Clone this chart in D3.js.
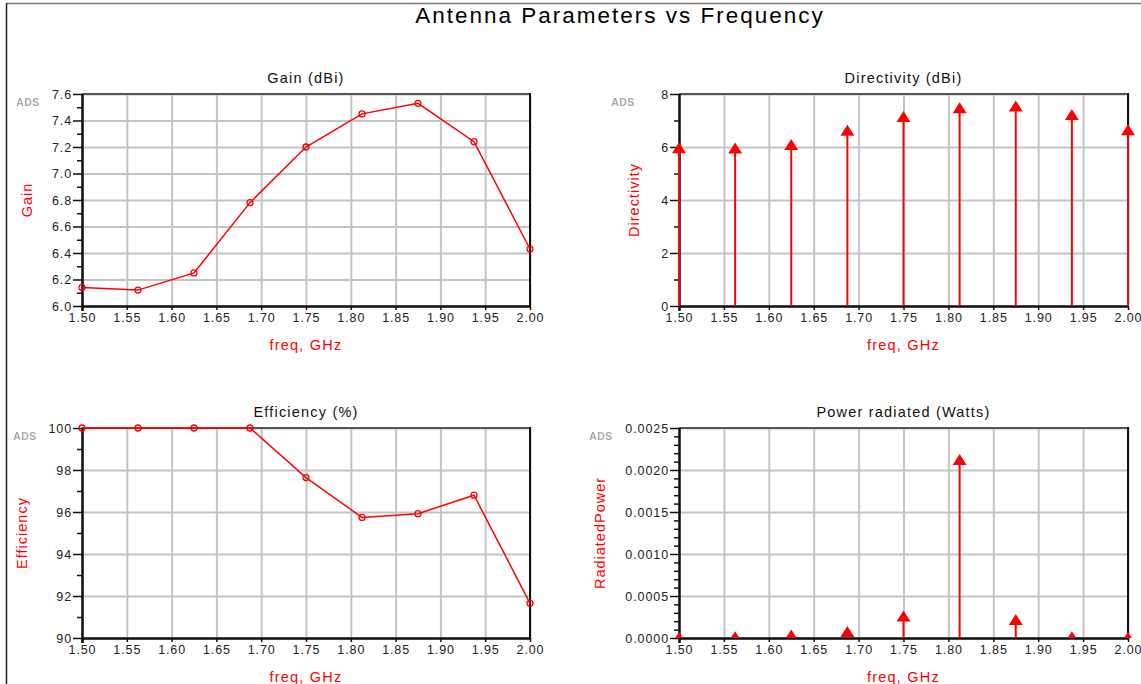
<!DOCTYPE html>
<html>
<head>
<meta charset="utf-8">
<script src="https://cdn.jsdelivr.net/npm/d3@7"></script>
<style>
  body { margin: 0; background: #fff; }
  svg { display: block; font-family: "Liberation Sans", Arial, sans-serif; }
  .tick text { font-size: 12.5px; fill: #222; letter-spacing: 0.9px; }
  .grid line { stroke: #c4c4c4; stroke-width: 2; }
  .grid path { display: none; }
</style>
</head>
<body>
<div id="chart"></div>
<script>
// values
const freq = [1.5, 1.5625, 1.625, 1.6875, 1.75, 1.8125, 1.875, 1.9375, 2.0];
const gain = [6.14, 6.12, 6.25, 6.78, 7.20, 7.45, 7.53, 7.24, 6.43];
const directivity = [5.95, 5.94, 6.08, 6.61, 7.13, 7.46, 7.53, 7.21, 6.63];
const efficiency = [100, 100, 100, 100, 97.64, 95.74, 95.92, 96.80, 91.65];
const radiatedPower = [0.0, 0.00001, 0.00003, 0.00007, 0.000255, 0.00212, 0.000215, 0.000008, 0.0];

const freqTicks = [1.50, 1.55, 1.60, 1.65, 1.70, 1.75, 1.80, 1.85, 1.90, 1.95, 2.00];
const gainTicks = [6.0, 6.2, 6.4, 6.6, 6.8, 7.0, 7.2, 7.4, 7.6];
const dirTicks = [0, 2, 4, 6, 8];
const effTicks = [90, 92, 94, 96, 98, 100];
const powerTicks = [0.0000, 0.0005, 0.0010, 0.0015, 0.0020, 0.0025];

const W = 1141, H = 684;
const svg = d3.select("#chart").append("svg").attr("width", W).attr("height", H);

// outer frame
svg.append("line").attr("x1", 6).attr("x2", W).attr("y1", 3.5).attr("y2", 3.5)
    .attr("stroke", "#777").attr("stroke-width", 1.5);
svg.append("line").attr("x1", 6.5).attr("x2", 6.5).attr("y1", 3).attr("y2", H)
    .attr("stroke", "#222").attr("stroke-width", 1.5);

svg.append("text")
    .attr("x", 620).attr("y", 23)
    .attr("text-anchor", "middle")
    .style("font-size", "22.5px")
    .style("letter-spacing", "2px")
    .text("Antenna Parameters vs Frequency");

// blur for the little ADS stamp
svg.append("defs").append("filter").attr("id", "soft")
    .append("feGaussianBlur").attr("stdDeviation", 0.7);

function panel(cfg) {
    let left = cfg.left, right = cfg.right, top = cfg.top, bottom = cfg.bottom;
    let w = right - left, h = bottom - top;
    let g = svg.append("g").attr("transform", `translate(${left},${top})`);

    let x = d3.scaleLinear().domain([1.5, 2.0]).range([0, w]);
    let y = d3.scaleLinear().domain(cfg.yDomain).range([h, 0]);

    // grid
    g.append("g").attr("class", "grid")
        .call(d3.axisLeft(y).tickValues(cfg.yTicks).tickSize(-w).tickFormat(""));
    g.append("g").attr("class", "grid")
        .call(d3.axisBottom(x).tickValues(freqTicks).tickSize(h).tickFormat(""));

    // frame: top gray, right black
    g.append("line").attr("x1", 0).attr("x2", w).attr("y1", 0).attr("y2", 0)
        .attr("stroke", "#555").attr("stroke-width", 2);
    g.append("line").attr("x1", w).attr("x2", w).attr("y1", -1).attr("y2", h)
        .attr("stroke", "#111").attr("stroke-width", 2);

    // minor y ticks
    g.append("g")
        .call(d3.axisLeft(y).tickValues(cfg.yMinor).tickSize(5).tickFormat(""))
        .call(a => a.select(".domain").remove())
        .selectAll("line").attr("stroke", "#111").attr("stroke-width", 1.5);

    // y axis
    g.append("g")
        .call(d3.axisLeft(y).tickValues(cfg.yTicks).tickSize(9).tickSizeOuter(0).tickPadding(1).tickFormat(cfg.fmt))
        .call(a => a.select(".domain").attr("stroke", "#111").attr("stroke-width", 2.5)
            .attr("d", `M0.5,0V${h + 5}`))
        .selectAll("line").attr("stroke", "#111").attr("stroke-width", 1.5);

    // x axis
    g.append("g")
        .attr("transform", `translate(0,${h})`)
        .call(d3.axisBottom(x).tickValues(freqTicks).tickSize(4).tickSizeOuter(0).tickPadding(3).tickFormat(d3.format(".2f")))
        .call(a => a.select(".domain").attr("stroke", "#111").attr("stroke-width", 2.5))
        .selectAll("line").attr("stroke", "#111").attr("stroke-width", 1.5);

    let vals = cfg.values;

    if (cfg.type === "line") {
        let line = d3.line().x((d, i) => x(freq[i])).y(d => y(d));
        g.append("path").datum(vals)
            .attr("d", line)
            .attr("fill", "none").attr("stroke", "#ff0000").attr("stroke-width", 1.5);
        g.selectAll(".pt").data(vals).enter().append("circle")
            .attr("class", "pt")
            .attr("cx", (d, i) => x(freq[i])).attr("cy", d => y(d))
            .attr("r", 3).attr("fill", "none")
            .attr("stroke", "#ff0000").attr("stroke-width", 1.3);
    } else {
        let clipId = "clip" + cfg.id;
        g.append("clipPath").attr("id", clipId)
            .append("rect").attr("x", -20).attr("y", -20).attr("width", w + 40).attr("height", h + 20);
        let m = g.append("g").attr("clip-path", `url(#${clipId})`);
        m.selectAll(".stem").data(vals).enter().append("line")
            .attr("class", "stem")
            .attr("x1", (d, i) => x(freq[i])).attr("x2", (d, i) => x(freq[i]))
            .attr("y1", y(0)).attr("y2", d => y(d))
            .attr("stroke", "#ff0000").attr("stroke-width", 2);
        m.selectAll(".tri").data(vals).enter().append("path")
            .attr("class", "tri")
            .attr("transform", (d, i) => `translate(${x(freq[i])},${y(d)})`)
            .attr("d", "M0,-6L7,5L-7,5Z")
            .attr("fill", "#ff0000");
    }

    // titles and labels
    g.append("text").attr("x", w / 2).attr("y", -11)
        .attr("text-anchor", "middle").style("font-size", "14.5px").style("letter-spacing", "1.2px")
        .attr("fill", "#111")
        .text(cfg.title);
    g.append("text").attr("x", w / 2).attr("y", h + 44)
        .attr("text-anchor", "middle").style("font-size", "14.5px").style("letter-spacing", "1.2px")
        .attr("fill", "#ff0000")
        .text("freq, GHz");
    g.append("text")
        .attr("transform", `translate(${cfg.yLabelX},${h / 2}) rotate(-90)`)
        .attr("text-anchor", "middle").style("font-size", "14.5px").style("letter-spacing", "1px")
        .attr("fill", "#ff0000")
        .text(cfg.yLabel);
    g.append("text").attr("x", cfg.adsX).attr("y", 12)
        .attr("text-anchor", "middle").style("font-size", "10.5px").style("font-weight", "bold")
        .style("letter-spacing", "0.5px")
        .attr("fill", "#aaaaaa").attr("filter", "url(#soft)")
        .text("ADS");
}

panel({
    id: 1, left: 82, right: 530, top: 94, bottom: 306,
    title: "Gain (dBi)", yLabel: "Gain", yLabelX: -50, adsX: -54,
    yDomain: [6.0, 7.6], yTicks: gainTicks,
    yMinor: d3.range(6.1, 7.6, 0.2), fmt: d3.format(".1f"),
    values: gain, type: "line"
});
panel({
    id: 2, left: 679, right: 1128, top: 94, bottom: 306,
    title: "Directivity (dBi)", yLabel: "Directivity", yLabelX: -40, adsX: -56,
    yDomain: [0, 8], yTicks: dirTicks,
    yMinor: [1, 3, 5, 7], fmt: d3.format("d"),
    values: directivity, type: "stem"
});
panel({
    id: 3, left: 82, right: 530, top: 428, bottom: 638,
    title: "Efficiency (%)", yLabel: "Efficiency", yLabelX: -55, adsX: -57,
    yDomain: [90, 100], yTicks: effTicks,
    yMinor: [91, 93, 95, 97, 99], fmt: d3.format("d"),
    values: efficiency, type: "line"
});
panel({
    id: 4, left: 679, right: 1128, top: 428, bottom: 638,
    title: "Power radiated (Watts)", yLabel: "RadiatedPower", yLabelX: -74, adsX: -78,
    yDomain: [0, 0.0025], yTicks: powerTicks,
    yMinor: d3.range(1, 25).filter(k => k % 5 !== 0).map(k => k * 0.0001), fmt: d3.format(".4f"),
    values: radiatedPower, type: "stem"
});
</script>
</body>
</html>
